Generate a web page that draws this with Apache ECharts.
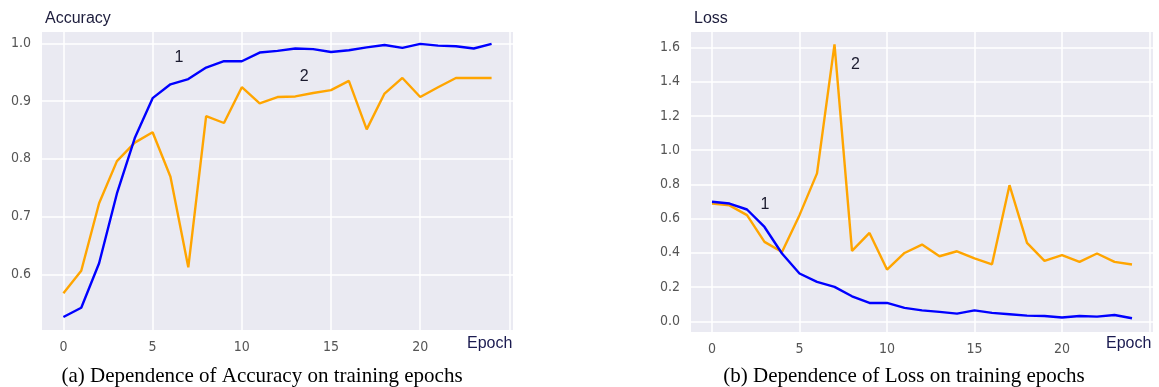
<!DOCTYPE html>
<html><head><meta charset="utf-8">
<script src="https://cdn.jsdelivr.net/npm/echarts@6/dist/echarts.min.js"></script>
<style>html,body{margin:0;padding:0;background:#fff}#c{width:1159px;height:387px}</style>
</head><body><div id="c"></div>
<script>
const epochs = [0,1,2,3,4,5,6,7,8,9,10,11,12,13,14,15,16,17,18,19,20,21,22,23,24];
const accTrain = [0.526,0.542,0.619,0.740,0.836,0.905,0.929,0.938,0.958,0.969,0.969,0.984,0.987,0.991,0.990,0.985,0.988,0.993,0.997,0.992,0.999,0.996,0.995,0.991,0.999];
const accVal = [0.567,0.606,0.723,0.796,0.828,0.846,0.769,0.612,0.874,0.862,0.924,0.896,0.907,0.908,0.914,0.919,0.935,0.851,0.913,0.940,0.907,0.924,0.940,0.940,0.940];
const lossTrain = [0.698,0.688,0.653,0.551,0.396,0.279,0.230,0.201,0.146,0.107,0.107,0.078,0.064,0.055,0.045,0.064,0.049,0.041,0.033,0.031,0.022,0.031,0.027,0.037,0.018];
const lossVal = [0.688,0.677,0.620,0.464,0.405,0.620,0.864,1.618,0.411,0.516,0.302,0.399,0.448,0.380,0.409,0.367,0.333,0.795,0.458,0.353,0.386,0.347,0.396,0.347,0.332];
const xGridTicks = [0,5,10,15,20,25];
const xTickLabels = [0,5,10,15,20];
const accTicks = [0.6,0.7,0.8,0.9,1.0];
const lossTicks = [0.0,0.2,0.4,0.6,0.8,1.0,1.2,1.4,1.6];

const chart = echarts.init(document.getElementById('c'), null, {renderer:'canvas'});
const pair = (ys) => epochs.map((e,i)=>[e, ys[i]]);
const tickFont = {fontFamily:'"DejaVu Sans Condensed", "DejaVu Sans"', fontSize:14, color:'#555555'};
const annFont = {fontFamily:'Liberation Sans', fontSize:16, color:'#1a1a2e'};
function xAx(gi){
  return {type:'value', gridIndex:gi, min:-1.2, max:25.2,
    axisLine:{show:false}, axisTick:{show:false, customValues:xGridTicks},
    axisLabel:Object.assign({customValues:xTickLabels, margin:10}, tickFont),
    splitLine:{show:true, lineStyle:{color:'#ffffff', width:1.5}}};
}
function yAx(gi, min, max, ticks){
  return {type:'value', gridIndex:gi, min:min, max:max,
    axisLine:{show:false}, axisTick:{show:false, customValues:ticks},
    axisLabel:Object.assign({customValues:ticks, margin:11, formatter:v=>v.toFixed(1)}, tickFont),
    splitLine:{show:true, lineStyle:{color:'#ffffff', width:1.5}}};
}
function ann(text, coord){
  return {symbol:'circle', symbolSize:0, silent:true,
    label:Object.assign({show:true, position:'inside', formatter:text}, annFont),
    data:[{coord:coord}]};
}
function line(xi, yi, data, color, mp){
  return {type:'line', xAxisIndex:xi, yAxisIndex:yi, data:data, showSymbol:false, symbol:'none',
    lineStyle:{color:color, width:2.4}, itemStyle:{color:color}, markPoint:mp, z:3};
}
chart.setOption({
  animation:false,
  backgroundColor:'#ffffff',
  grid:[
    {left:42, top:32, width:471, height:298, show:true, backgroundColor:'#eaeaf2', borderWidth:0},
    {left:691, top:32, width:462, height:300, show:true, backgroundColor:'#eaeaf2', borderWidth:0}
  ],
  xAxis:[xAx(0), xAx(1)],
  yAxis:[yAx(0, 0.5035, 1.0196, accTicks), yAx(1, -0.0626, 1.690, lossTicks)],
  series:[
    line(0,0,pair(accVal),'#ffa500', ann('2',[13.5,0.9416])),
    line(0,0,pair(accTrain),'#0000ff', ann('1',[6.47,0.9745])),
    line(1,1,pair(lossVal),'#ffa500', ann('2',[8.2,1.497])),
    line(1,1,pair(lossTrain),'#0000ff', ann('1',[3.03,0.684]))
  ],
  graphic:[
    {type:'text', left:45, top:11, style:{text:'Accuracy', fontFamily:'Liberation Sans', fontSize:16, fill:'#1c1c3c'}},
    {type:'text', left:694, top:11, style:{text:'Loss', fontFamily:'Liberation Sans', fontSize:16, fill:'#1c1c3c'}},
    {type:'text', left:467, top:336, style:{text:'Epoch', fontFamily:'Liberation Sans', fontSize:16, fill:'#1a1a50'}},
    {type:'text', left:1106, top:336, style:{text:'Epoch', fontFamily:'Liberation Sans', fontSize:16, fill:'#1a1a50'}},
    {type:'text', x:262, y:376, style:{text:'(a) Dependence of Accuracy on training epochs', fontFamily:'Liberation Serif', fontSize:21, fill:'#000', align:'center', verticalAlign:'middle'}},
    {type:'text', x:904, y:376, style:{text:'(b) Dependence of Loss on training epochs', fontFamily:'Liberation Serif', fontSize:21, fill:'#000', align:'center', verticalAlign:'middle'}}
  ]
});
</script></body></html>
